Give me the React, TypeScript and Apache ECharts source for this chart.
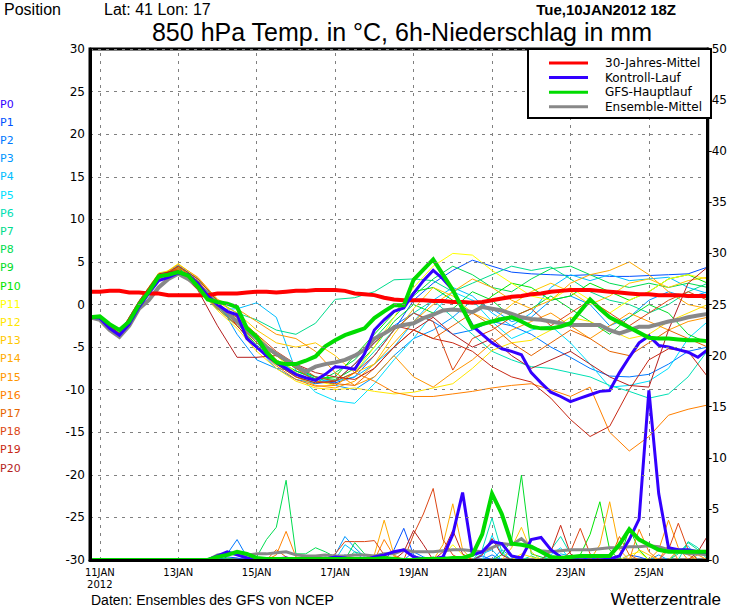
import React, { useEffect, useRef } from 'react';
import * as echarts from 'echarts';

// ---- time axis (hours after run start 10JAN2012 18Z) ----
const memberHours = [0, 6, 18, 30, 42, 54, 66, 78, 90, 102, 114, 126, 138, 150, 162, 174, 186, 198, 210, 222, 234, 246, 258, 270, 282, 294, 306, 318, 330, 342, 354, 366, 378];
const STEP_COUNT = 64; // 6-hourly steps 0..378 h
const tickHours = [6, 54, 102, 150, 198, 246, 294, 342];
const tickLabels = ['11JAN\n2012', '13JAN', '15JAN', '17JAN', '19JAN', '21JAN', '23JAN', '25JAN'];

// ---- ensemble members ----
const memberNames = ['P1', 'P2', 'P3', 'P4', 'P5', 'P6', 'P7', 'P8', 'P9', 'P10', 'P11', 'P12', 'P13', 'P14', 'P15', 'P16', 'P17', 'P18', 'P19', 'P20'];
const labelNames = ['P0', ...memberNames];
const labelColors = ['#3300ff', '#0050ff', '#0078ff', '#0096ff', '#00beff', '#00e0ff', '#00e0b4', '#00dc8c', '#00dc50', '#00dc28', '#00e600', '#ffff00', '#ffe600', '#ffc800', '#ffaa00', '#ff9600', '#ff8000', '#e66400', '#dc4614', '#c82814', '#b41e1e'];

// 850 hPa temperature (°C) per member at memberHours
const tempP1 = [-1.5, -1.6, -3.7, -0.3, 3.0, 4.3, 2.6, 0.2, -2.0, -4.5, -6.8, -8.2, -9.0, -9.2, -8.5, -6.0, -3.0, 0.5, 2.5, 4.0, 5.2, 4.5, 3.8, 3.6, 3.5, 3.4, 3.5, 3.3, 3.3, 3.4, 3.5, 3.6, 4.4];
const tempP2 = [-1.5, -1.5, -3.5, 0.2, 3.4, 4.0, 2.2, -0.3, -2.5, -5.0, -7.5, -8.8, -9.3, -9.0, -7.0, -4.5, -2.5, -1.0, -2.0, -3.5, -3.0, -2.0, -2.5, -3.5, -5.0, -6.2, -7.5, -8.4, -8.5, -8.2, -7.0, -5.5, -5.0];
const tempP3 = [-1.5, -1.7, -3.9, -0.2, 3.1, 4.6, 3.0, 0.5, -3.5, -6.5, -7.5, -7.8, -8.5, -9.5, -10.0, -8.5, -6.0, -4.0, -3.0, -1.5, 0.5, -0.5, -2.0, -1.5, 0.5, 1.0, 0.0, -2.5, -1.5, 0.5, 1.5, 0.8, 1.5];
const tempP4 = [-1.5, -1.6, -3.4, 0.4, 3.6, 4.1, 1.8, -0.6, -0.5, 0.2, -1.5, -7.8, -8.8, -9.0, -8.5, -7.0, -5.0, -2.0, 0.5, 2.0, 1.0, -1.0, -2.5, -1.0, 2.0, 3.5, 2.8, 3.5, 2.8, 3.0, 3.2, 2.0, 1.3];
const tempP5 = [-1.5, -1.6, -3.8, -0.4, 2.9, 4.2, 2.7, 0.0, -1.5, -4.0, -6.5, -8.0, -10.3, -11.3, -11.6, -9.3, -6.5, -4.0, -1.0, 1.5, 0.5, -2.0, -4.0, -3.0, -2.5, -4.5, -7.0, -9.7, -9.5, -9.0, -7.5, -4.0, -2.0];
const tempP6 = [-1.5, -1.5, -3.5, 0.1, 3.3, 4.0, 2.3, -0.2, -2.0, -4.5, -6.0, -7.5, -8.5, -9.0, -8.0, -5.5, -3.0, -1.0, 0.5, -1.5, -3.5, -5.5, -6.5, -7.3, -7.5, -8.0, -8.5, -9.5, -10.2, -11.0, -10.5, -8.5, -5.4];
const tempP7 = [-1.5, -1.7, -3.9, -0.2, 3.1, 4.5, 3.0, 0.4, -1.0, -1.8, -3.0, -3.5, -2.2, 0.6, 0.8, 1.5, 2.9, 3.0, 2.8, 1.5, 2.5, 3.5, 4.5, 4.0, 4.4, 3.0, 1.5, 0.5, 0.0, -1.0, 0.0, 1.5, 2.5];
const tempP8 = [-1.5, -1.6, -3.4, 0.3, 3.5, 4.1, 1.9, -0.5, -2.5, -5.0, -7.0, -8.5, -9.2, -8.0, -6.5, -4.0, -1.5, 1.0, 3.0, 4.5, 3.5, 2.0, 1.5, 3.0, 4.2, 4.5, 3.5, 2.5, 2.0, 2.5, 2.0, 2.5, 2.0];
const tempP9 = [-1.5, -1.6, -3.6, -0.3, 3.0, 4.3, 2.5, 0.1, -1.8, -4.0, -6.0, -7.5, -8.5, -8.8, -7.5, -5.0, -2.0, 0.0, -1.0, -0.5, 1.5, 0.5, -1.5, -0.5, 1.0, -0.5, -2.0, -3.5, -1.5, 0.0, -1.0, -3.5, -4.5];
const tempP10 = [-1.5, -1.5, -3.5, 0.2, 3.4, 3.9, 2.1, -0.3, -2.2, -4.8, -6.5, -7.8, -8.7, -8.5, -6.0, -3.5, -1.0, 1.5, 2.0, 0.5, -1.0, 1.0, 2.5, 2.0, 0.5, 1.0, 2.5, 1.5, 0.5, 1.5, 3.0, 3.5, 2.5];
const tempP11 = [-1.5, -1.7, -4.0, -0.3, 3.2, 4.8, 3.1, 0.6, -1.5, -3.5, -6.0, -8.0, -9.0, -9.5, -8.0, -5.0, -1.5, 2.0, 4.5, 6.0, 5.8, 4.0, 2.5, 1.0, 0.5, 2.0, 0.5, -1.0, 0.5, 1.5, 3.0, 3.5, 3.0];
const tempP12 = [-1.5, -1.6, -3.4, 0.4, 3.7, 4.2, 1.8, -0.7, -2.8, -5.5, -7.5, -9.0, -9.8, -10.0, -9.8, -10.2, -10.5, -10.3, -9.8, -9.3, -7.5, -5.4, -4.5, -4.2, -3.0, -1.5, -2.0, -3.0, -4.0, -3.5, -2.0, -1.0, 0.0];
const tempP13 = [-1.5, -1.6, -3.7, -0.4, 2.9, 4.4, 2.7, 0.3, -1.0, -3.0, -4.5, -5.0, -4.5, -6.0, -8.0, -7.0, -3.5, -0.5, 2.0, 1.0, -1.0, -2.0, 0.0, 1.5, 2.5, 1.5, 0.0, 1.0, 2.5, 3.0, 2.0, 2.8, 3.2];
const tempP14 = [-1.5, -1.5, -3.6, 0.1, 3.3, 4.1, 2.4, -0.2, -2.0, -4.0, -6.5, -8.5, -9.5, -9.8, -9.0, -7.0, -4.5, -2.0, 0.0, 1.5, 3.0, 2.0, 0.5, -0.5, 0.5, 2.5, 3.5, 4.0, 5.0, 3.5, 1.5, 0.0, -0.5];
const tempP15 = [-1.5, -1.7, -3.9, -0.1, 3.2, 4.7, 3.2, 0.6, -0.5, -2.0, -3.5, -4.0, -5.5, -8.0, -9.5, -8.5, -6.0, -8.5, -9.7, -8.0, -6.5, -4.5, -3.0, -2.0, -1.0, -2.5, -4.0, -2.5, -1.0, -2.0, -3.0, -2.0, -1.5];
const tempP16 = [-1.5, -1.6, -3.5, 0.3, 3.5, 4.0, 1.9, -0.5, -2.5, -5.0, -7.2, -8.8, -9.6, -9.5, -8.0, -9.0, -10.3, -10.8, -10.8, -10.5, -10.2, -9.8, -9.5, -9.3, -10.0, -10.8, -9.7, -15.0, -17.2, -15.5, -13.0, -12.3, -11.8];
const tempP17 = [-1.5, -1.6, -3.7, -0.2, 3.0, 4.4, 2.8, 0.1, -2.2, -4.5, -6.0, -7.5, -9.0, -9.3, -9.5, -7.5, -5.0, -3.0, -4.0, -2.5, -1.0, -2.5, -4.5, -6.0, -4.5, -3.0, -4.0, -5.5, -6.0, -4.5, -3.0, -4.0, -5.0];
const tempP18 = [-1.5, -1.5, -3.5, 0.2, 3.4, 4.2, 2.2, -0.4, -1.5, -3.5, -5.5, -7.0, -8.5, -9.0, -8.0, -6.0, -3.0, -1.0, -2.0, -7.7, -4.0, -3.0, -1.5, -0.5, -2.5, -1.0, 0.5, -1.0, -2.5, -1.0, 0.5, 1.5, 0.5];
const tempP19 = [-1.5, -1.7, -3.8, -0.3, 3.1, 4.5, 3.0, 0.4, -2.5, -5.0, -7.0, -8.5, -9.2, -9.0, -7.0, -4.5, -2.5, -3.0, -4.0, -4.5, -5.5, -7.3, -8.5, -9.1, -11.0, -13.5, -15.5, -14.3, -10.0, -6.5, -5.2, -5.5, -8.5];
const tempP20 = [-1.5, -1.6, -3.4, 0.4, 3.6, 4.0, 1.7, -2.5, -6.2, -6.2, -6.0, -7.0, -8.0, -8.5, -8.8, -7.5, -5.0, -3.0, -1.5, -3.5, -5.0, -4.0, -6.0, -7.5, -6.5, -5.5, -7.0, -8.5, -9.5, -9.7, -3.0, 2.5, 4.4];

// 6h precipitation (mm) per member, as [6h step, mm]; steps not listed had no precipitation
const rainP1 = [[14, 0.3], [15, 0.2], [25, 0.3], [31, 1.0], [32, 3.1], [33, 0.5], [36, 0.2], [40, 0.4], [50, 0.3], [55, 0.5], [56, 0.3]];
const rainP2 = [[14, 0.6], [15, 2.0], [16, 0.3], [26, 0.5], [30, 0.2], [33, 0.8], [34, 0.3], [41, 0.5], [52, 0.4], [53, 0.2]];
const rainP3 = [[25, 0.5], [26, 2.3], [27, 1.2], [28, 0.3], [36, 0.4], [42, 1.0], [43, 0.3], [58, 0.5]];
const rainP4 = [[26, 1.5], [27, 0.8], [40, 0.6], [41, 1.0], [48, 0.6], [49, 0.4]];
const rainP5 = [[24, 0.3], [41, 2.4], [42, 0.6], [47, 0.5], [48, 1.2], [60, 0.8], [61, 1.4]];
const rainP6 = [[40, 1.0], [41, 4.1], [42, 0.8], [47, 1.0], [48, 2.3], [49, 0.6], [61, 1.8], [62, 1.2]];
const rainP7 = [[27, 0.8], [28, 0.5], [45, 0.4], [60, 0.6], [61, 1.7], [62, 1.0], [63, 0.8]];
const rainP8 = [[14, 0.2], [17, 0.3], [18, 2.0], [19, 3.2], [20, 7.8], [21, 0.6], [22, 0.6], [23, 1.2], [24, 0.8], [25, 0.3], [27, 1.7], [28, 0.6]];
const rainP9 = [[35, 0.3], [42, 0.5], [43, 2.0], [44, 8.3], [45, 0.6], [46, 0.3]];
const rainP10 = [[36, 0.3], [50, 0.5], [51, 2.5], [52, 5.7], [53, 1.0], [55, 3.1], [56, 1.0]];
const rainP11 = [[36, 0.4], [37, 1.5], [38, 0.5], [55, 0.5], [56, 0.8]];
const rainP12 = [[30, 0.3], [44, 0.6], [45, 0.3]];
const rainP13 = [[43, 1.2], [44, 3.2], [45, 0.8], [56, 1.0], [57, 0.5]];
const rainP14 = [[29, 0.5], [30, 3.9], [31, 0.5], [36, 1.5], [37, 5.5], [38, 1.0], [52, 1.5], [53, 5.7], [54, 1.0], [60, 1.0], [61, 0.5]];
const rainP15 = [[31, 0.3], [58, 1.0], [59, 3.9], [60, 1.2], [62, 0.5]];
const rainP16 = [[19, 0.5], [20, 2.8], [21, 0.3], [30, 2.0], [31, 0.4], [56, 3.0], [57, 0.8], [59, 1.5]];
const rainP17 = [[19, 1.0], [20, 0.3], [54, 2.3], [55, 0.5]];
const rainP18 = [[25, 0.6], [26, 1.8], [27, 1.8], [28, 1.8], [29, 1.9], [30, 0.5], [33, 2.5], [34, 4.5], [35, 7.0], [36, 2.0], [37, 0.5], [49, 0.8], [50, 3.1], [51, 0.6], [59, 1.0], [60, 3.6], [61, 1.0]];
const rainP19 = [[36, 0.8], [37, 2.9], [38, 0.6], [47, 0.8], [48, 3.4], [49, 0.6]];
const rainP20 = [[32, 0.8], [33, 2.9], [34, 1.5], [40, 0.5], [41, 2.1], [42, 0.5], [62, 0.8], [63, 2.4]];

const memberTemps = [tempP1, tempP2, tempP3, tempP4, tempP5, tempP6, tempP7, tempP8, tempP9, tempP10, tempP11, tempP12, tempP13, tempP14, tempP15, tempP16, tempP17, tempP18, tempP19, tempP20];
const memberRain = [rainP1, rainP2, rainP3, rainP4, rainP5, rainP6, rainP7, rainP8, rainP9, rainP10, rainP11, rainP12, rainP13, rainP14, rainP15, rainP16, rainP17, rainP18, rainP19, rainP20];

// ---- highlighted runs, 6-hourly (64 steps) ----
const climTemp = [1.5, 1.5, 1.6, 1.6, 1.4, 1.4, 1.3, 1.3, 1.1, 1.1, 1.1, 1.1, 1.1, 1.3, 1.3, 1.3, 1.4, 1.5, 1.5, 1.4, 1.5, 1.6, 1.6, 1.7, 1.7, 1.7, 1.6, 1.3, 1.2, 1.1, 0.8, 0.6, 0.5, 0.5, 0.5, 0.4, 0.4, 0.3, 0.3, 0.2, 0.3, 0.5, 0.7, 0.9, 1.0, 1.2, 1.3, 1.5, 1.6, 1.7, 1.7, 1.7, 1.6, 1.5, 1.4, 1.3, 1.2, 1.2, 1.1, 1.1, 1.1, 1.0, 1.0, 1.0];
const controlTemp = [-1.5, -1.6, -2.8, -3.6, -2.3, -0.3, 1.3, 2.8, 3.2, 3.7, 3.5, 2.5, 1.0, 0.0, -0.8, -1.2, -4.0, -5.0, -6.0, -6.8, -7.5, -8.2, -8.6, -8.9, -8.2, -7.3, -7.4, -7.6, -5.8, -3.0, -1.8, -0.8, -0.4, 1.3, 2.8, 4.0, 3.0, 1.7, -0.5, -2.5, -3.5, -4.5, -5.2, -5.5, -5.9, -8.0, -9.2, -10.3, -10.8, -11.4, -11.0, -10.6, -10.2, -10.1, -8.0, -6.2, -4.5, -3.7, -4.8, -5.0, -5.3, -5.6, -6.2, -5.3];
const mainTemp = [-1.5, -1.4, -2.3, -3.0, -2.0, 0.0, 1.5, 3.3, 3.5, 3.8, 3.4, 2.1, 0.6, 0.3, 0.1, -0.3, -2.8, -3.8, -5.6, -6.8, -7.0, -7.0, -6.6, -6.1, -4.9, -4.2, -3.6, -3.2, -2.8, -1.6, -0.8, -0.1, -0.1, 2.9, 4.1, 5.3, 3.5, 1.7, -0.5, -2.7, -2.3, -2.0, -1.7, -1.5, -2.0, -2.6, -2.8, -2.8, -2.6, -2.2, -0.8, 0.6, -0.5, -1.5, -2.1, -2.7, -3.3, -3.9, -4.0, -4.0, -4.1, -4.2, -4.2, -4.3];
const meanTemp = [-1.5, -1.8, -3.0, -3.8, -2.5, -0.5, 0.5, 2.0, 3.0, 3.6, 3.0, 2.2, 1.3, -0.1, -1.0, -2.0, -3.0, -4.0, -5.0, -5.8, -6.5, -7.2, -7.9, -7.3, -7.0, -6.8, -6.5, -6.0, -5.3, -4.0, -3.4, -2.7, -2.4, -2.2, -1.6, -1.2, -0.7, -0.6, -0.7, -0.9, -0.3, -0.5, -0.7, -1.1, -1.5, -1.7, -1.8, -2.0, -2.2, -2.4, -2.4, -2.4, -2.4, -3.0, -3.4, -3.0, -2.6, -2.6, -2.3, -2.0, -1.8, -1.5, -1.3, -1.1];
const controlRain = [0, 0, 0, 0, 0, 0, 0, 0, 0, 0, 0, 0, 0, 0.4, 0.8, 0.5, 0.2, 0, 0, 0.1, 0.2, 0, 0, 0, 0.1, 0.3, 0.2, 0, 0, 0.3, 0.5, 0.8, 1.0, 0.3, 0.1, 0.1, 0.3, 2.5, 6.6, 0.5, 0.8, 1.8, 1.6, 0.4, 0.2, 2.0, 2.2, 1.0, 0.3, 0.1, 0, 0, 0, 0.1, 0.4, 2.0, 4.0, 16.6, 6.5, 1.2, 1.0, 1.0, 0.8, 0.7];
const mainRain = [0, 0, 0, 0, 0, 0, 0, 0, 0, 0, 0, 0, 0, 0.3, 0.5, 0.8, 0.6, 0.2, 0.1, 0.1, 0.1, 0.1, 0.1, 0.1, 0.1, 0.1, 0.1, 0.1, 0.1, 0.1, 0.2, 0.1, 0, 0, 0.1, 0.1, 0.1, 0.2, 0.2, 0.5, 2.5, 6.5, 4.5, 1.6, 1.5, 1.3, 0.8, 0.3, 0.2, 0.3, 0.4, 0.4, 0.4, 0.4, 1.5, 3.0, 2.0, 1.5, 1.0, 0.8, 0.8, 0.8, 0.8, 0.8];
const meanRain = [0, 0, 0, 0, 0, 0, 0, 0, 0, 0, 0, 0, 0, 0.5, 0.6, 0.6, 0.5, 0.6, 0.6, 0.7, 0.8, 0.5, 0.4, 0.4, 0.5, 0.4, 0.4, 0.5, 0.5, 0.4, 0.6, 0.6, 1.0, 0.8, 0.8, 0.8, 0.9, 1.0, 1.0, 0.9, 0.8, 1.2, 1.6, 1.5, 2.1, 1.2, 0.9, 0.8, 0.9, 1.0, 1.0, 1.0, 1.1, 1.2, 1.2, 1.3, 1.3, 1.4, 1.3, 1.0, 0.8, 0.6, 0.6, 0.5];

// ---- legend ----
const legendNames = ['30-Jahres-Mittel', 'Kontroll-Lauf', 'GFS-Hauptlauf', 'Ensemble-Mittel'];
const legendColors = ['#ff0000', '#3300ff', '#00dc00', '#888888'];

const GRID = { left: 90, top: 49, width: 621, height: 511 };
const TICK_FONT = '"DejaVu Sans", sans-serif';
const TEXT_FONT = '"Liberation Sans", Arial, sans-serif';

const stepHour = (i: number) => i * 6;
const onSteps = (vals: number[]) => vals.map((v, i) => [stepHour(i), v]);
const onMemberHours = (vals: number[]) => vals.map((v, k) => [memberHours[k], v]);
const rainOnSteps = (pairs: number[][]) => {
  const full = new Array(STEP_COUNT).fill(0);
  pairs.forEach(([s, mm]) => { full[s] = mm; });
  return onSteps(full);
};

function buildOption() {
  const series: any[] = [];

  // vertical dotted day lines
  series.push({
    type: 'line', name: 'grid', data: [], silent: true, z: 1,
    markLine: {
      silent: true, symbol: ['none', 'none'], label: { show: false }, animation: false, z: 1,
      lineStyle: { color: '#808080', type: [3, 5], width: 1 },
      data: tickHours.map((h) => ({ xAxis: h })),
    },
  });

  memberTemps.forEach((vals, m) => {
    series.push({
      type: 'line', name: memberNames[m], data: onMemberHours(vals), xAxisIndex: 0, yAxisIndex: 0,
      showSymbol: false, silent: true, z: 2,
      lineStyle: { width: 1, color: labelColors[m + 1] },
    });
  });
  memberRain.forEach((pairs, m) => {
    series.push({
      type: 'line', name: memberNames[m] + ' RR', data: rainOnSteps(pairs), xAxisIndex: 0, yAxisIndex: 1,
      showSymbol: false, silent: true, z: 2,
      lineStyle: { width: 1, color: labelColors[m + 1] },
    });
  });

  const thick = (name: string, data: number[][], axis: number, color: string, width: number, z: number) => ({
    type: 'line', name, data, xAxisIndex: 0, yAxisIndex: axis, showSymbol: false, silent: true, z,
    lineStyle: { width, color, cap: 'butt', join: 'miter' },
  });

  series.push(thick('Ensemble-Mittel', onSteps(meanTemp), 0, legendColors[3], 4, 3));
  series.push(thick('Ensemble-Mittel', onSteps(meanRain), 1, legendColors[3], 3, 3));
  series.push(thick('30-Jahres-Mittel', onSteps(climTemp), 0, legendColors[0], 4, 4));
  series.push(thick('Kontroll-Lauf', onSteps(controlTemp), 0, legendColors[1], 3, 4));
  series.push(thick('Kontroll-Lauf', onSteps(controlRain), 1, legendColors[1], 3, 4));
  series.push(thick('GFS-Hauptlauf', onSteps(mainTemp), 0, legendColors[2], 4, 4));
  series.push(thick('GFS-Hauptlauf', onSteps(mainRain), 1, legendColors[2], 4, 4));

  const graphic: any[] = [];
  const text = (x: number, y: number, t: string, font: string, fill = '#000', align = 'left') => ({
    type: 'text', x, y, silent: true, z: 20,
    style: { text: t, font, fill, textAlign: align, textVerticalAlign: 'middle' },
  });

  graphic.push(text(4, 9, 'Position', `16px ${TEXT_FONT}`));
  graphic.push(text(104, 9, 'Lat: 41 Lon: 17', `16px ${TEXT_FONT}`));
  graphic.push(text(676, 9, 'Tue,10JAN2012 18Z', `bold 15px ${TEXT_FONT}`, '#000', 'right'));
  graphic.push(text(402, 32, '850 hPa Temp. in °C, 6h-Niederschlag in mm', `25px ${TEXT_FONT}`, '#000', 'center'));
  graphic.push(text(91, 600, 'Daten: Ensembles des GFS von NCEP', `14px ${TEXT_FONT}`));
  graphic.push(text(721, 599, 'Wetterzentrale', `17px ${TEXT_FONT}`, '#000', 'right'));

  labelNames.forEach((n, i) => {
    graphic.push(text(0, 104 + i * 18.2, n, `11px ${TICK_FONT}`, labelColors[i]));
  });

  // legend box
  graphic.push({
    type: 'rect', silent: true, z: 20,
    shape: { x: 528, y: GRID.top, width: GRID.left + GRID.width - 528, height: 69 },
    style: { fill: '#fff', stroke: '#000', lineWidth: 2 },
  });
  legendNames.forEach((n, i) => {
    const y = 63 + i * 14.6;
    graphic.push({
      type: 'line', silent: true, z: 21,
      shape: { x1: 549, y1: y, x2: 588, y2: y },
      style: { stroke: legendColors[i], lineWidth: 3 },
    });
    graphic.push({ ...text(605, y, n, `12px ${TICK_FONT}`), z: 21 });
  });

  return {
    animation: false,
    backgroundColor: '#fff',
    grid: { left: GRID.left, top: GRID.top, width: GRID.width, height: GRID.height, show: true, borderColor: '#000', borderWidth: 3, backgroundColor: '#fff' },
    xAxis: [{
      type: 'value', min: 0, max: 378, z: 10,
      axisLine: { show: true, onZero: false, lineStyle: { color: '#000', width: 3 } },
      axisTick: { show: false },
      splitLine: { show: false },
      axisLabel: {
        customValues: tickHours,
        color: '#000', fontSize: 10, fontFamily: TICK_FONT, lineHeight: 12, margin: 6,
        formatter: (v: number) => {
          const k = tickHours.indexOf(Math.round(v));
          return k >= 0 ? tickLabels[k] : '';
        },
      },
    }],
    yAxis: [
      {
        type: 'value', min: -30, max: 30, interval: 5, position: 'left', z: 10,
        axisLine: { show: true, lineStyle: { color: '#000', width: 3 } },
        axisTick: { show: false },
        axisLabel: { color: '#000', fontSize: 12, fontFamily: TICK_FONT, margin: 5 },
        splitLine: { show: true, lineStyle: { color: '#808080', type: [3, 5], width: 1 } },
      },
      {
        type: 'value', min: 0, max: 50, interval: 5, position: 'right', z: 10,
        axisLine: { show: true, lineStyle: { color: '#000', width: 3 } },
        axisTick: { show: true, inside: false, length: 4, lineStyle: { color: '#000', width: 1 } },
        axisLabel: { color: '#000', fontSize: 12, fontFamily: TICK_FONT, margin: 4 },
        splitLine: { show: false },
      },
    ],
    series,
    graphic,
  };
}

export default function App() {
  const ref = useRef<HTMLDivElement>(null);
  useEffect(() => {
    if (!ref.current) return;
    const chart = echarts.init(ref.current, null, { renderer: 'svg' });
    chart.setOption(buildOption() as any);
    return () => chart.dispose();
  }, []);
  return <div ref={ref} style={{ position: 'fixed', left: 0, top: 0, width: 730, height: 609, background: '#fff' }} />;
}
